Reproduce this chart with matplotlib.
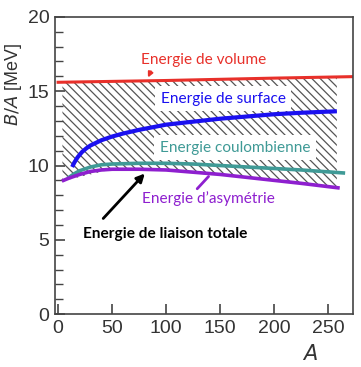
import matplotlib.pyplot as plt

# Readings from the picture (A, B/A in MeV)
A_volume = [0, 50, 100, 150, 200, 273]
E_volume = [15.6, 15.66, 15.72, 15.8, 15.88, 15.98]

A_surface = [13, 15, 18, 22, 26, 30, 40, 50, 60, 75, 100, 125, 150, 175, 200, 225, 258]
E_surface = [9.9, 10.2, 10.55, 10.9, 11.15, 11.35, 11.7, 11.95, 12.15, 12.4, 12.75, 12.95, 13.15, 13.3, 13.45, 13.55, 13.65]

A_coulomb = [10, 15, 20, 30, 40, 50, 75, 100, 125, 150, 175, 200, 225, 264]
E_coulomb = [9.2, 9.45, 9.65, 9.9, 10.05, 10.1, 10.15, 10.15, 10.1, 10.0, 9.9, 9.8, 9.7, 9.5]

A_asym = [5, 10, 20, 30, 40, 50, 75, 100, 125, 150, 175, 200, 225, 259]
E_asym = [9.0, 9.15, 9.4, 9.6, 9.7, 9.75, 9.75, 9.7, 9.55, 9.4, 9.2, 9.0, 8.8, 8.5]

# hatched zone: top follows volume line, bottom follows asymmetry line
A_hatch = [4, 50, 100, 150, 200, 258]
hatch_top = [15.55, 15.6, 15.66, 15.74, 15.82, 15.9]
hatch_bot = [8.95, 9.75, 9.7, 9.4, 9.0, 8.55]

xticks = [0, 50, 100, 150, 200, 250]
yticks = [0, 5, 10, 15, 20]

plt.rcParams['hatch.color'] = '#555555'
plt.rcParams['hatch.linewidth'] = 0.9

fig = plt.figure(figsize=(3.61, 3.67), dpi=100)
ax = fig.add_axes([0.152, 0.144, 0.826, 0.81])

ax.fill_between(A_hatch, hatch_bot, hatch_top, facecolor='none', edgecolor='#555555',
                hatch='\\\\\\\\', linewidth=0)

ax.plot(A_volume, E_volume, color='#e8302a', lw=2.2)
ax.plot(A_surface, E_surface, color='#1a10f0', lw=3, solid_capstyle='butt')
ax.plot(A_coulomb, E_coulomb, color='#3f9a96', lw=2.6)
ax.plot(A_asym, E_asym, color='#8e1fcf', lw=2.6)

ax.set_xlim(-3, 273)
ax.set_ylim(0, 20)
ax.set_xticks(xticks)
ax.set_yticks(yticks)
ax.set_yticks(range(0, 21), minor=True)
ax.tick_params(direction='in', length=7, width=1.2, color='#444444', labelsize=14,
               labelcolor='#333333', pad=4)
ax.tick_params(axis='y', which='minor', direction='in', length=6, width=1.0, color='#444444')
for s in ax.spines.values():
    s.set_color('#444444')
    s.set_linewidth(1.2)
for lab in ax.get_xticklabels() + ax.get_yticklabels():
    lab.set_family('Liberation Sans')

fig.text(0.038, 0.77, r'$B/A$ [MeV]', rotation=90, ha='center', va='center',
         fontsize=13, color='#333333', family='Liberation Sans')
fig.text(0.86, 0.035, '$A$', ha='center', va='center', fontsize=15, color='#333333')

box = dict(facecolor='white', edgecolor='none', pad=4)
fs = 11.1
ax.text(135, 17.1, 'Energie de volume', color='#e8302a', fontsize=fs, family='Lato',
        ha='center', va='center', bbox=box)
ax.text(153, 14.5, 'Energie de surface', color='#1a10f0', fontsize=fs, family='Lato',
        ha='center', va='center', bbox=box)
ax.text(164, 11.2, 'Energie coulombienne', color='#3f9a96', fontsize=fs, family='Lato',
        ha='center', va='center', bbox=box)
ax.text(139, 7.8, 'Energie d\u2019asym\u00e9trie', color='#8e1fcf', fontsize=fs, family='Lato',
        ha='center', va='center', bbox=box)
ax.text(99, 5.4, 'Energie de liaison totale', color='black', fontsize=fs, family='Lato',
        weight='bold', ha='center', va='center')

ax.annotate('', xy=(82, 9.6), xytext=(40, 6.3),
            arrowprops=dict(arrowstyle='-|>', color='black', lw=2, mutation_scale=12))
ax.annotate('', xy=(141, 9.4), xytext=(127, 8.3),
            arrowprops=dict(arrowstyle='-', color='#8e1fcf', lw=2))
ax.annotate('', xy=(82, 15.75), xytext=(87, 16.5),
            arrowprops=dict(arrowstyle='-|>', color='#e8302a', lw=1.5, mutation_scale=7))

fig.savefig('out.png', dpi=100, facecolor='white')
